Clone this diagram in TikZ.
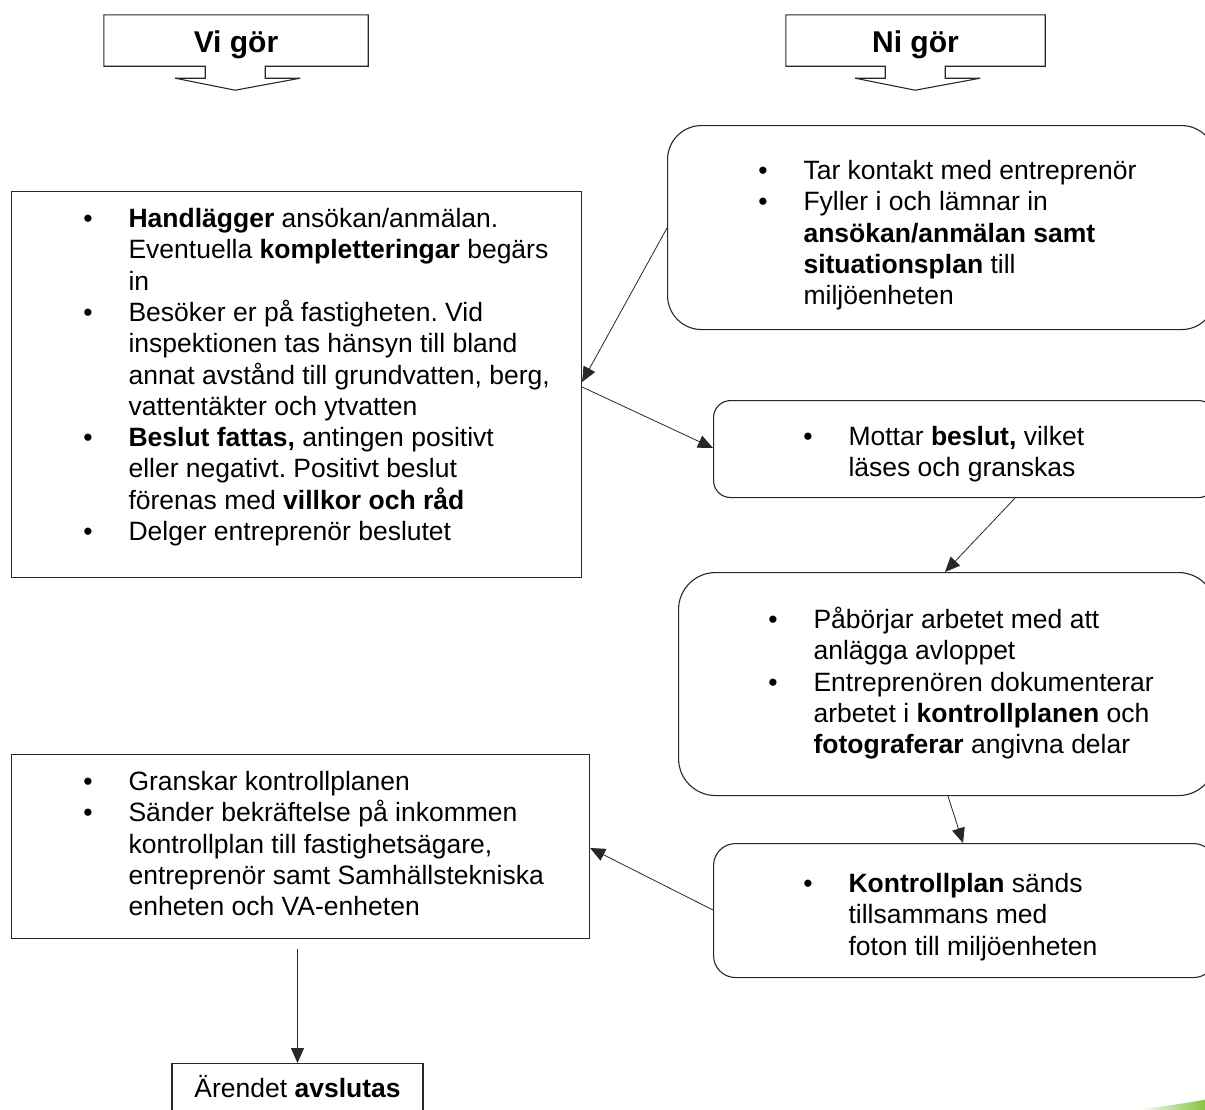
\documentclass[tikz,border=0pt]{standalone}
\usepackage{fontspec}
\setmainfont{Liberation Sans}
\usepackage{tikz}
\usetikzlibrary{arrows.meta, positioning}
\frenchspacing

\definecolor{gron}{RGB}{125,190,50}
\definecolor{linje}{RGB}{40,40,40}

\newcommand{\punkt}{\leavevmode\llap{\textbullet\hspace{36pt}}}
\newcommand{\innehall}[5]{\parbox[c][#2][t]{#1}{\leftskip=#3\relax\rightskip=0pt plus 1fil\relax\vspace*{#4}\strut#5\par}}

\tikzset{
    ruta/.style={draw=linje, line width=1.1pt, inner sep=0pt, anchor=north west, font=\fontsize{26.5}{31.3}\selectfont},
    rund/.style={ruta, rounded corners=#1},
    rubrik/.style={font=\fontsize{30}{36}\selectfont\bfseries, minimum height=51pt, inner sep=0pt, text height=27.5pt, text depth=4.5pt},
    ram/.style={draw=linje, line width=1.1pt},
    pil/.style={draw=linje, line width=0.8pt, -{Triangle[length=15pt,width=13pt]}}
}

\begin{document}
\begin{tikzpicture}[x=1pt, y=-1pt]
            \useasboundingbox (0,0) rectangle (1205,1109);
            \fill[white] (0,0) rectangle (1205,1109);
            % rubriker
            \node[rubrik, minimum width=264pt] (vi) at (236,40.5) {Vi gör};
            \node[rubrik, minimum width=259pt] (ni) at (915.5,40.5) {Ni gör};
            \draw[ram] (vi.south west) -- (vi.north west) -- (vi.north east) -- (vi.south east) -- ++(-103,0) -- ++(0,12) -- ++(35,0) -- ++(-65,12) -- ++(-60,-12) -- ++(30,0) -- ++(0,-12) -- cycle;
            \draw[ram] (ni.south west) -- (ni.north west) -- (ni.north east) -- (ni.south east) -- ++(-100,0) -- ++(0,12) -- ++(35,0) -- ++(-65,12) -- ++(-60,-12) -- ++(30,0) -- ++(0,-12) -- cycle;
            % rutor
            \node[ruta] (vi1) at (11,191) {\innehall{570pt}{386pt}{117pt}{14.1pt}{%
                \punkt\textbf{Handlägger} ansökan/anmälan.\\ Eventuella \textbf{kompletteringar} begärs\\ in\par
                \punkt Besöker er på fastigheten. Vid\\ inspektionen tas hänsyn till bland\\ annat avstånd till grundvatten, berg,\\ vattentäkter och ytvatten\par
                \punkt\textbf{Beslut fattas,} antingen positivt\\ eller negativt. Positivt beslut\\ förenas med \textbf{villkor och råd}\par
                \punkt Delger entreprenör beslutet}};
            \node[rund=34pt] (ni1) at (667,125) {\innehall{548pt}{204pt}{136pt}{32.1pt}{%
                \punkt Tar kontakt med entreprenör\par
                \punkt Fyller i och lämnar in\\ \textbf{ansökan/anmälan samt}\\ \textbf{situationsplan} till\\ miljöenheten}};
            \node[rund=17pt] (ni2) at (713,400) {\innehall{502pt}{97pt}{135pt}{23.1pt}{%
                \punkt Mottar \textbf{beslut,} vilket\\ läses och granskas}};
            \node[rund=37pt] (ni3) at (678,572) {\innehall{537pt}{223pt}{135pt}{34.1pt}{%
                \punkt Påbörjar arbetet med att\\ anlägga avloppet\par
                \punkt Entreprenören dokumenterar\\ arbetet i \textbf{kontrollplanen} och\\ \textbf{fotograferar} angivna delar}};
            \node[rund=22pt] (ni4) at (713,843) {\innehall{502pt}{134pt}{135pt}{27.1pt}{%
                \punkt\textbf{Kontrollplan} sänds\\ tillsammans med\\ foton till miljöenheten}};
            \node[ruta] (vi2) at (11,754) {\innehall{578pt}{184pt}{117pt}{14.1pt}{%
                \punkt Granskar kontrollplanen\par
                \punkt Sänder bekräftelse på inkommen\\ kontrollplan till fastighetsägare,\\ entreprenör samt Samhällstekniska\\ enheten och VA-enheten}};
            \node[ruta, anchor=north] (klar) at (297.5,1063) {\innehall{251pt}{60pt}{0pt}{12.1pt}{\centering Ärendet \textbf{avslutas}}};
            % pilar
            \draw[pil] ([yshift=-103pt]ni1.north west) -- ([yshift=-191pt]vi1.north east);
            \draw[pil] ([yshift=-196pt]vi1.north east) -- ([yshift=-48pt]ni2.north west);
            \draw[pil] ([xshift=302pt]ni2.south west) -- ([xshift=267pt]ni3.north west);
            \draw[pil] ([xshift=270pt]ni3.south west) -- ([xshift=250pt]ni4.north west);
            \draw[pil] ([yshift=-67pt]ni4.north west) -- ([yshift=-94pt]vi2.north east);
            \draw[pil] ([yshift=-10pt]klar.north |- vi2.south) -- (klar.north);
            % logga
            \shade[left color=gron!5, right color=gron] (1140,1109) .. controls (1170,1106) and (1190,1102) .. (1210,1099) -- (1210,1112) -- cycle;
        \end{tikzpicture}
\end{document}
